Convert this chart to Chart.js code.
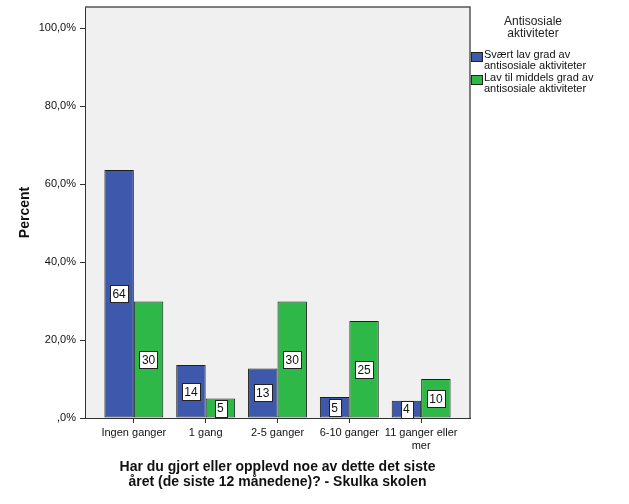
<!DOCTYPE html>
<html>
<head>
<meta charset="utf-8">
<script src="https://cdn.jsdelivr.net/npm/chart.js@4/dist/chart.umd.min.js"></script>
<style>
  html, body { margin: 0; padding: 0; background: #fff; }
  #wrap { width: 629px; height: 504px; }
</style>
</head>
<body>
<div id="wrap"><canvas id="myChart" width="629" height="504"></canvas></div>
<script>
// data
const categories = ['Ingen ganger', '1 gang', '2-5 ganger', '6-10 ganger', ['11 ganger eller', 'mer']]
const lowValues = [63.6, 13.6, 12.7, 5.4, 4.4]
const midValues = [29.9, 5.0, 29.9, 24.9, 10.0]
const seriesNames = [
  ['Svært lav grad av', 'antisosiale aktiviteter'],
  ['Lav til middels grad av', 'antisosiale aktiviteter']
]
const seriesColors = ['#3e58ac', '#2eb848']
const legendTitle = ['Antisosiale', 'aktiviteter']
const xTitle = ['Har du gjort eller opplevd noe av dette det siste', 'året (de siste 12 månedene)? - Skulka skolen']
const yTitle = 'Percent'

const FONT = '"Liberation Sans", Arial, sans-serif'

function toPoints(arr) {
  return arr.map((v, i) => ({x: i, y: v}))
}

function fmtPct(v) {
  if (v === 0) return ',0%'
  return v.toFixed(1).replace('.', ',') + '%'
}

const plotBg = {
  id: 'plotBg',
  beforeDraw(chart) {
    const {ctx, chartArea: a} = chart
    ctx.save()
    ctx.fillStyle = '#f0f0f0'
    ctx.fillRect(a.left, a.top, a.right - a.left, a.bottom - a.top)
    ctx.restore()
  },
  afterDraw(chart) {
    const {ctx, chartArea: a} = chart
    ctx.save()
    ctx.strokeStyle = '#555'
    ctx.lineWidth = 1.5
    ctx.beginPath()
    ctx.moveTo(a.left, a.top)
    ctx.lineTo(a.right, a.top)
    ctx.lineTo(a.right, a.bottom)
    ctx.stroke()
    ctx.restore()
  }
}

const barLabels = {
  id: 'barLabels',
  afterDatasetsDraw(chart) {
    const ctx = chart.ctx
    ctx.save()
    ctx.font = '12px ' + FONT
    ctx.textAlign = 'center'
    ctx.textBaseline = 'middle'
    chart.data.datasets.forEach((ds, i) => {
      chart.getDatasetMeta(i).data.forEach((el, j) => {
        const txt = String(Math.round(ds.data[j].y))
        const w = ctx.measureText(txt).width + 5
        const h = 17
        const cx = el.x
        const cy = (el.y + el.base) / 2
        ctx.fillStyle = '#fff'
        ctx.fillRect(Math.round(cx - w / 2) + 0.5, Math.round(cy - h / 2) + 0.5, Math.round(w), h)
        ctx.strokeStyle = '#222'
        ctx.lineWidth = 1
        ctx.strokeRect(Math.round(cx - w / 2) + 0.5, Math.round(cy - h / 2) + 0.5, Math.round(w), h)
        ctx.fillStyle = '#111'
        ctx.fillText(txt, cx, cy + 1)
      })
    })
    ctx.restore()
  }
}

const sideLegend = {
  id: 'sideLegend',
  afterDraw(chart) {
    const ctx = chart.ctx
    const a = chart.chartArea
    ctx.save()
    ctx.fillStyle = '#222'
    ctx.textAlign = 'center'
    ctx.textBaseline = 'middle'
    ctx.font = '12px ' + FONT
    legendTitle.forEach((t, i) => ctx.fillText(t, 533, 22 + i * 12))
    ctx.textAlign = 'left'
    ctx.font = '11px ' + FONT
    let y = 55
    seriesNames.forEach((lines, i) => {
      ctx.fillStyle = seriesColors[i]
      ctx.fillRect(a.right + 1, y - 3, 12, 10)
      ctx.strokeStyle = '#222'
      ctx.lineWidth = 1
      ctx.strokeRect(a.right + 1.5, y - 2.5, 11, 9)
      ctx.fillStyle = '#111'
      lines.forEach((t, k) => ctx.fillText(t, 484, y + k * 11))
      y += 23
    })
    ctx.restore()
  }
}

const cfg = {
  type: 'bar',
  data: {
    datasets: [
      {label: seriesNames[0].join(' '), data: toPoints(lowValues), backgroundColor: seriesColors[0]},
      {label: seriesNames[1].join(' '), data: toPoints(midValues), backgroundColor: seriesColors[1]}
    ]
  },
  options: {
    responsive: false,
    animation: false,
    layout: {padding: {left: 0, top: 7, right: 159, bottom: 0}},
    datasets: {
      bar: {
        borderColor: '#1e1e1e',
        borderWidth: 1,
        borderSkipped: false,
        categoryPercentage: 0.82,
        barPercentage: 1.0
      }
    },
    plugins: {
      legend: {display: false},
      tooltip: {enabled: false}
    },
    scales: {
      x: {
        type: 'linear',
        min: -0.68,
        max: 4.68,
        offset: false,
        afterFit: s => { s.height = 86; s.paddingLeft = 0; s.paddingRight = 0 },
        grid: {offset: false, drawOnChartArea: false, drawTicks: true, tickLength: 5, color: '#333'},
        border: {display: true, color: '#333', width: 1},
        ticks: {
          stepSize: 1,
          includeBounds: false,
          autoSkip: false,
          maxRotation: 0,
          padding: 3,
          color: '#111',
          font: {family: FONT, size: 11, lineHeight: 1.2},
          callback: v => (Number.isInteger(v) && categories[v] !== undefined) ? categories[v] : ''
        },
        title: {
          display: true,
          text: xTitle,
          color: '#111',
          padding: {top: 0, bottom: 14},
          font: {family: FONT, size: 14, weight: 'bold', lineHeight: 1.08}
        }
      },
      y: {
        min: 0,
        max: 105.4,
        afterFit: s => { s.width = 85; s.paddingTop = 0; s.paddingBottom = 0 },
        grid: {drawOnChartArea: false, drawTicks: true, tickLength: 5, color: '#333'},
        border: {display: true, color: '#333', width: 1},
        ticks: {
          stepSize: 20,
          includeBounds: false,
          padding: 4,
          color: '#111',
          font: {family: FONT, size: 11},
          callback: v => fmtPct(v)
        },
        title: {
          display: true,
          text: yTitle,
          color: '#111',
          padding: {top: 17, bottom: 0},
          font: {family: FONT, size: 14, weight: 'bold'}
        }
      }
    }
  },
  plugins: [plotBg, barLabels, sideLegend]
}

const myChart = new Chart(document.getElementById('myChart'), cfg)
</script>
</body>
</html>
